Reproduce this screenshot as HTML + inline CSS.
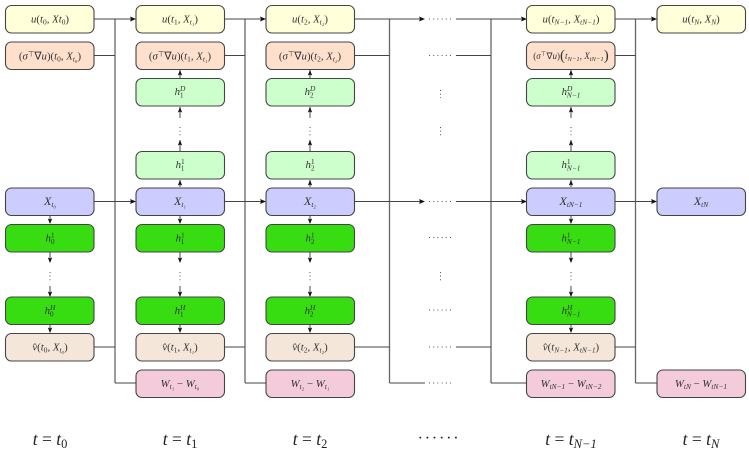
<!DOCTYPE html>
<html><head><meta charset="utf-8"><style>
html,body{margin:0;padding:0;background:#fff}
svg{display:block;filter:blur(.35px)}
text{font-family:"Liberation Serif",serif;font-style:italic;font-size:10.8px;fill:#333;text-anchor:middle}
.s{font-size:7.4px}
.n{font-style:normal}
.x{font-size:12px}
.t{font-size:9px}
.t .s{font-size:6.6px}
.b{font-size:17.5px;fill:#222}
.b .s{font-size:12.5px}
rect{stroke:#444;stroke-width:1.1}
.y{fill:#ffffd9}.o{fill:#ffe0cc}.l{fill:#ccffcc}.u{fill:#ccccff}.g{fill:#38dd11}.e{fill:#f5e6da}.p{fill:#f3cbdb}
.w path{fill:none;stroke:#444;stroke-width:1}
.w path.bus{stroke:#666;stroke-width:1.3}
.w path.v{stroke:#666;stroke-width:1.2}
.a{fill:#111;stroke:none}
.d{fill:none;stroke:#555;stroke-width:1;stroke-dasharray:1 2.6}
</style></head><body>
<svg width="749" height="454" viewBox="0 0 749 454" xmlns="http://www.w3.org/2000/svg">
<g class="w">
<path class="bus" d="M115 19V383M245 19V383M389.500 19V383M491 19V383M635.500 19V383"/>
<path d="M94 19H132M94 55.500H115M94 201.500H132M94 347H115M115 383H136"/>
<path d="M224 19H262M224 55.500H245M224 201.500H262M224 347H245M245 383H266"/>
<path d="M354 19H420M354 55.500H389.500M354 201.500H420M354 347H389.500M389.500 383H425"/>
<path d="M456 19H523M456 55.500H491M456 201.500H523M456 347H491M491 383H527"/>
<path d="M615 19H653M615 55.500H635.500M615 201.500H653M615 347H635.500M635.500 383H657"/>
<path class="v" d="M180 70V78M180 107V118M180 140V151M180 180V187M180 216V223M180 252V262M180 286V296M180 325V332"/>
<path class="v" d="M310 70V78M310 107V118M310 140V151M310 180V187M310 216V223M310 252V262M310 286V296M310 325V332"/>
<path class="v" d="M571 70V78M571 107V118M571 140V151M571 180V187M571 216V223M571 252V262M571 286V296M571 325V332"/>
<path class="v" d="M50 216V223M50 252V262M50 286V296M50 325V332"/>
</g>
<g class="a">
<path d="M136 19l-6-2.500 1 2.500-1 2.500zM266 19l-6-2.500 1 2.500-1 2.500zM425 19l-6-2.500 1 2.500-1 2.500zM527 19l-6-2.500 1 2.500-1 2.500zM657 19l-6-2.500 1 2.500-1 2.500z"/>
<path d="M136 201.500l-6-2.500 1 2.500-1 2.500zM266 201.500l-6-2.500 1 2.500-1 2.500zM425 201.500l-6-2.500 1 2.500-1 2.500zM527 201.500l-6-2.500 1 2.500-1 2.500zM657 201.500l-6-2.500 1 2.500-1 2.500z"/>
<path d="M180 70l-2.200 5.500 2.200-1 2.200 1zM180 107l-2.200 5.500 2.200-1 2.200 1zM180 140l-2.200 5.500 2.200-1 2.200 1zM180 180l-2.200 5.500 2.200-1 2.200 1zM180 224l-2.200-5.500 2.200 1 2.200-1zM180 263l-2.200-5.500 2.200 1 2.200-1zM180 297l-2.200-5.500 2.200 1 2.200-1zM180 333l-2.200-5.500 2.200 1 2.200-1z"/>
<path d="M310 70l-2.200 5.500 2.200-1 2.200 1zM310 107l-2.200 5.500 2.200-1 2.200 1zM310 140l-2.200 5.500 2.200-1 2.200 1zM310 180l-2.200 5.500 2.200-1 2.200 1zM310 224l-2.200-5.500 2.200 1 2.200-1zM310 263l-2.200-5.500 2.200 1 2.200-1zM310 297l-2.200-5.500 2.200 1 2.200-1zM310 333l-2.200-5.500 2.200 1 2.200-1z"/>
<path d="M571 70l-2.200 5.500 2.200-1 2.200 1zM571 107l-2.200 5.500 2.200-1 2.200 1zM571 140l-2.200 5.500 2.200-1 2.200 1zM571 180l-2.200 5.500 2.200-1 2.200 1zM571 224l-2.200-5.500 2.200 1 2.200-1zM571 263l-2.200-5.500 2.200 1 2.200-1zM571 297l-2.200-5.500 2.200 1 2.200-1zM571 333l-2.200-5.500 2.200 1 2.200-1z"/>
<path d="M50 224l-2.200-5.500 2.200 1 2.200-1zM50 263l-2.200-5.500 2.200 1 2.200-1zM50 297l-2.200-5.500 2.200 1 2.200-1zM50 333l-2.200-5.500 2.200 1 2.200-1z"/>
</g>
<g>
<rect class="y" x="5.500" y="5.500" width="88.500" height="27.500" rx="6"/>
<rect class="o" x="5.500" y="42" width="88.500" height="27.500" rx="6"/>
<rect class="u" x="5.500" y="188" width="88.500" height="27.500" rx="6"/>
<rect class="g" x="5.500" y="224.500" width="88.500" height="27.500" rx="6"/>
<rect class="g" x="5.500" y="297" width="88.500" height="27.500" rx="6"/>
<rect class="e" x="5.500" y="333.500" width="88.500" height="27.500" rx="6"/>

<rect class="y" x="136" y="5.500" width="88.500" height="27.500" rx="6"/>
<rect class="o" x="136" y="42" width="88.500" height="27.500" rx="6"/>
<rect class="l" x="136" y="78.500" width="88.500" height="27.500" rx="6"/>
<rect class="l" x="136" y="151.500" width="88.500" height="27.500" rx="6"/>
<rect class="u" x="136" y="188" width="88.500" height="27.500" rx="6"/>
<rect class="g" x="136" y="224.500" width="88.500" height="27.500" rx="6"/>
<rect class="g" x="136" y="297" width="88.500" height="27.500" rx="6"/>
<rect class="e" x="136" y="333.500" width="88.500" height="27.500" rx="6"/>
<rect class="p" x="136" y="370" width="88.500" height="27.500" rx="6"/>

<rect class="y" x="266" y="5.500" width="88.500" height="27.500" rx="6"/>
<rect class="o" x="266" y="42" width="88.500" height="27.500" rx="6"/>
<rect class="l" x="266" y="78.500" width="88.500" height="27.500" rx="6"/>
<rect class="l" x="266" y="151.500" width="88.500" height="27.500" rx="6"/>
<rect class="u" x="266" y="188" width="88.500" height="27.500" rx="6"/>
<rect class="g" x="266" y="224.500" width="88.500" height="27.500" rx="6"/>
<rect class="g" x="266" y="297" width="88.500" height="27.500" rx="6"/>
<rect class="e" x="266" y="333.500" width="88.500" height="27.500" rx="6"/>
<rect class="p" x="266" y="370" width="88.500" height="27.500" rx="6"/>

<rect class="y" x="526.500" y="5.500" width="88.500" height="27.500" rx="6"/>
<rect class="o" x="526.500" y="42" width="88.500" height="27.500" rx="6"/>
<rect class="l" x="526.500" y="78.500" width="88.500" height="27.500" rx="6"/>
<rect class="l" x="526.500" y="151.500" width="88.500" height="27.500" rx="6"/>
<rect class="u" x="526.500" y="188" width="88.500" height="27.500" rx="6"/>
<rect class="g" x="526.500" y="224.500" width="88.500" height="27.500" rx="6"/>
<rect class="g" x="526.500" y="297" width="88.500" height="27.500" rx="6"/>
<rect class="e" x="526.500" y="333.500" width="88.500" height="27.500" rx="6"/>
<rect class="p" x="526.500" y="370" width="88.500" height="27.500" rx="6"/>

<rect class="y" x="657" y="5.500" width="88.500" height="27.500" rx="6"/>
<rect class="u" x="657" y="188" width="88.500" height="27.500" rx="6"/>
<rect class="p" x="657" y="370" width="88.500" height="27.500" rx="6"/>
</g>
<g class="d">
<path d="M180 127V136M50 272V282M310 127V136M571 127V136M180 272V282M310 272V282M571 272V282M440.500 90V98M440.500 127V136M440.500 272V282"/>
</g>
<g>
<path class="d" style="stroke-dasharray:1 3.200" d="M429 19H452M429 55.500H452M429 201.500H452M429 237.500H452M429 310H452M429 347H452M429 383H452"/>
</g>

<text x="50" y="22.500">u<tspan class="n">(</tspan>t<tspan class="n s" dy="2">0</tspan><tspan dy="-2">, Xt</tspan><tspan class="n s" dy="2">0</tspan><tspan class="n" dy="-2">)</tspan></text>
<text x="50" y="59.500"><tspan class="n">(</tspan>σ<tspan class="n s" dy="-3">⊤</tspan><tspan class="n" dy="3">∇</tspan>u<tspan class="n">)(</tspan>t<tspan class="n s" dy="2">0</tspan><tspan dy="-2">, X</tspan><tspan class="s" dy="2">t₀</tspan><tspan class="n" dy="-2">)</tspan></text>
<text class="x" x="50" y="205">X<tspan class="s" dy="2">t₀</tspan></text>
<text x="50" y="241.500">h<tspan class="n s" dy="-4">1</tspan><tspan class="n s" dx="-3.700" dy="6.500">0</tspan></text>
<text x="50" y="314">h<tspan class="s" dy="-4">H</tspan><tspan class="n s" dx="-5.500" dy="6.500">0</tspan></text>
<text x="50" y="350.500">v̂<tspan class="n">(</tspan>t<tspan class="n s" dy="2">0</tspan><tspan dy="-2">, X</tspan><tspan class="s" dy="2">t₀</tspan><tspan class="n" dy="-2">)</tspan></text>

<text x="180" y="22.500">u<tspan class="n">(</tspan>t<tspan class="n s" dy="2">1</tspan><tspan dy="-2">, X</tspan><tspan class="s" dy="2">t₁</tspan><tspan class="n" dy="-2">)</tspan></text>
<text x="180" y="59.500"><tspan class="n">(</tspan>σ<tspan class="n s" dy="-3">⊤</tspan><tspan class="n" dy="3">∇</tspan>u<tspan class="n">)(</tspan>t<tspan class="n s" dy="2">1</tspan><tspan dy="-2">, X</tspan><tspan class="s" dy="2">t₁</tspan><tspan class="n" dy="-2">)</tspan></text>
<text x="180" y="95">h<tspan class="s" dy="-4">D</tspan><tspan class="n s" dx="-5.500" dy="6.500">1</tspan></text>
<text x="180" y="168">h<tspan class="n s" dy="-4">1</tspan><tspan class="n s" dx="-3.700" dy="6.500">1</tspan></text>
<text class="x" x="180" y="205">X<tspan class="s" dy="2">t₁</tspan></text>
<text x="180" y="241.500">h<tspan class="n s" dy="-4">1</tspan><tspan class="n s" dx="-3.700" dy="6.500">1</tspan></text>
<text x="180" y="314">h<tspan class="s" dy="-4">H</tspan><tspan class="n s" dx="-5.500" dy="6.500">1</tspan></text>
<text x="180" y="350.500">v̂<tspan class="n">(</tspan>t<tspan class="n s" dy="2">1</tspan><tspan dy="-2">, X</tspan><tspan class="s" dy="2">t₁</tspan><tspan class="n" dy="-2">)</tspan></text>
<text x="180" y="387">W<tspan class="s" dy="2">t₁</tspan><tspan class="n" dy="-2"> − </tspan>W<tspan class="s" dy="2">t₀</tspan></text>

<text x="310" y="22.500">u<tspan class="n">(</tspan>t<tspan class="n s" dy="2">2</tspan><tspan dy="-2">, X</tspan><tspan class="s" dy="2">t₂</tspan><tspan class="n" dy="-2">)</tspan></text>
<text x="310" y="59.500"><tspan class="n">(</tspan>σ<tspan class="n s" dy="-3">⊤</tspan><tspan class="n" dy="3">∇</tspan>u<tspan class="n">)(</tspan>t<tspan class="n s" dy="2">2</tspan><tspan dy="-2">, X</tspan><tspan class="s" dy="2">t₂</tspan><tspan class="n" dy="-2">)</tspan></text>
<text x="310" y="95">h<tspan class="s" dy="-4">D</tspan><tspan class="n s" dx="-5.500" dy="6.500">2</tspan></text>
<text x="310" y="168">h<tspan class="n s" dy="-4">1</tspan><tspan class="n s" dx="-3.700" dy="6.500">2</tspan></text>
<text class="x" x="310" y="205">X<tspan class="s" dy="2">t₂</tspan></text>
<text x="310" y="241.500">h<tspan class="n s" dy="-4">1</tspan><tspan class="n s" dx="-3.700" dy="6.500">2</tspan></text>
<text x="310" y="314">h<tspan class="s" dy="-4">H</tspan><tspan class="n s" dx="-5.500" dy="6.500">2</tspan></text>
<text x="310" y="350.500">v̂<tspan class="n">(</tspan>t<tspan class="n s" dy="2">2</tspan><tspan dy="-2">, X</tspan><tspan class="s" dy="2">t₂</tspan><tspan class="n" dy="-2">)</tspan></text>
<text x="310" y="387">W<tspan class="s" dy="2">t₂</tspan><tspan class="n" dy="-2"> − </tspan>W<tspan class="s" dy="2">t₁</tspan></text>

<text x="571" y="22.500">u<tspan class="n">(</tspan>t<tspan class="s" dy="2">N−1</tspan><tspan dy="-2">, X</tspan><tspan class="s" dy="2">tN−1</tspan><tspan class="n" dy="-2">)</tspan></text>
<text class="t" x="571" y="59"><tspan class="n">(</tspan>σ<tspan class="n s" dy="-3">⊤</tspan><tspan class="n" dy="3">∇</tspan>u<tspan class="n">)</tspan><tspan class="n" style="font-size:15px" dy="1">(</tspan><tspan dy="-1">t</tspan><tspan class="s" dy="2">N−1</tspan><tspan dy="-2">, X</tspan><tspan class="s" dy="2">tN−1</tspan><tspan class="n" style="font-size:15px" dy="-1">)</tspan></text>
<text x="571" y="95">h<tspan class="s" dy="-4">D</tspan><tspan class="s" dx="-5.500" dy="6.500">N−1</tspan></text>
<text x="571" y="168">h<tspan class="n s" dy="-4">1</tspan><tspan class="s" dx="-3.700" dy="6.500">N−1</tspan></text>
<text class="x" x="571" y="205">X<tspan class="s" dy="2">tN−1</tspan></text>
<text x="571" y="241.500">h<tspan class="n s" dy="-4">1</tspan><tspan class="s" dx="-3.700" dy="6.500">N−1</tspan></text>
<text x="571" y="314">h<tspan class="s" dy="-4">H</tspan><tspan class="s" dx="-5.500" dy="6.500">N−1</tspan></text>
<text x="571" y="350.500">v̂<tspan class="n">(</tspan>t<tspan class="s" dy="2">N−1</tspan><tspan dy="-2">, X</tspan><tspan class="s" dy="2">tN−1</tspan><tspan class="n" dy="-2">)</tspan></text>
<text x="571" y="387">W<tspan class="s" dy="2">tN−1</tspan><tspan class="n" dy="-2"> − </tspan>W<tspan class="s" dy="2">tN−2</tspan></text>

<text x="701" y="22.500">u<tspan class="n">(</tspan>t<tspan class="s" dy="2">N</tspan><tspan dy="-2">, X</tspan><tspan class="s" dy="2">N</tspan><tspan class="n" dy="-2">)</tspan></text>
<text class="x" x="701" y="205">X<tspan class="s" dy="2">tN</tspan></text>
<text x="701" y="387">W<tspan class="s" dy="2">tN</tspan><tspan class="n" dy="-2"> − </tspan>W<tspan class="s" dy="2">tN−1</tspan></text>

<text class="b" x="50" y="445">t <tspan class="n">=</tspan> t<tspan class="n s" dy="3">0</tspan></text>
<text class="b" x="180" y="445">t <tspan class="n">=</tspan> t<tspan class="n s" dy="3">1</tspan></text>
<text class="b" x="310" y="445">t <tspan class="n">=</tspan> t<tspan class="n s" dy="3">2</tspan></text>
<text class="b n" x="439" y="443" style="font-size:16px;letter-spacing:1.800px">······</text>
<text class="b" x="571" y="445">t <tspan class="n">=</tspan> t<tspan class="s" dy="3">N−1</tspan></text>
<text class="b" x="701" y="445">t <tspan class="n">=</tspan> t<tspan class="s" dy="3">N</tspan></text>
</svg>
</body></html>
